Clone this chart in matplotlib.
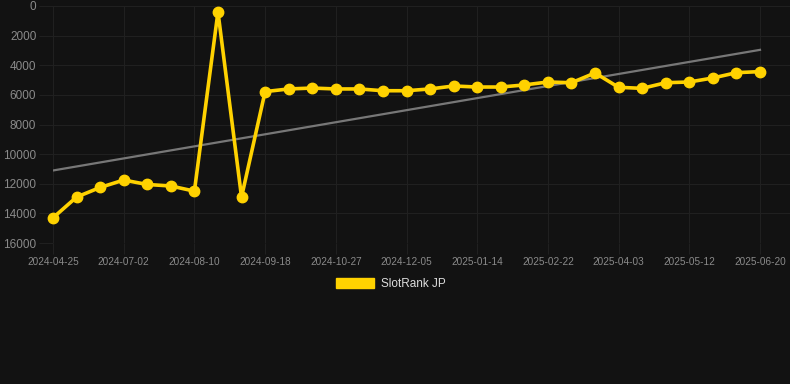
import numpy as np
import matplotlib
matplotlib.use("Agg")
from matplotlib import pyplot as plt
from matplotlib.patches import Patch

# rank values (lower = better, axis is inverted)
ranks = [14300, 12900, 12250, 11750, 12050, 12150, 12500, 400, 12900, 5780,
         5600, 5540, 5600, 5600, 5720, 5720, 5600, 5400, 5470, 5470,
         5330, 5130, 5180, 4520, 5490, 5560, 5180, 5130, 4860, 4500, 4430]
# every third point carries a date label
tick_labels = ['2024-04-25', '2024-07-02', '2024-08-10', '2024-09-18', '2024-10-27',
               '2024-12-05', '2025-01-14', '2025-02-22', '2025-04-03', '2025-05-12',
               '2025-06-20']
series_name = 'SlotRank JP'

bg = '#121212'
gold = '#FFD200'
grid_col = '#202020'
plt.rcParams['font.family'] = ['Liberation Sans', 'DejaVu Sans']

x = np.arange(len(ranks))
# linear trend over the series
slope, icpt = np.polyfit(x, ranks, 1)

fig = plt.figure(figsize=(7.9, 3.84), dpi=100, facecolor=bg)
ax = fig.add_axes([53 / 790, (384 - 243) / 384, 737 / 790, 237 / 384])
ax.set_facecolor(bg)

ax.plot(x, slope * x + icpt, color='#777777', lw=1.6, zorder=2)
ax.plot(x, ranks, color=gold, lw=2.6, marker='o', ms=7.5, zorder=3, clip_on=False)

ax.set_xlim(0, 30 + 30 * 30 / 707)
ax.set_ylim(16000, 0)
ax.set_yticks(np.arange(0, 16001, 2000))
ax.set_xticks(np.arange(0, len(ranks), 3))
ax.set_xticklabels(tick_labels)

for s in ax.spines.values():
    s.set_visible(False)
ax.grid(True, color=grid_col, lw=0.8)
ax.tick_params(axis='y', colors=grid_col, length=10, width=0.8, labelcolor='#8a8a8a',
               labelsize=8.5, pad=2)
ax.tick_params(axis='x', colors=grid_col, length=8, width=0.8, labelcolor='#8a8a8a',
               labelsize=7.2, pad=2)
ax.set_axisbelow(True)

handle = Patch(facecolor=gold, edgecolor=gold)
fig.legend([handle], [series_name], loc='center', bbox_to_anchor=(0.495, 1 - 284 / 384),
           frameon=False, handlelength=3.2, handleheight=1.0, labelcolor='#dddddd',
           fontsize=8.5, handletextpad=0.6)

fig.savefig('out.png', dpi=100, facecolor=bg)
